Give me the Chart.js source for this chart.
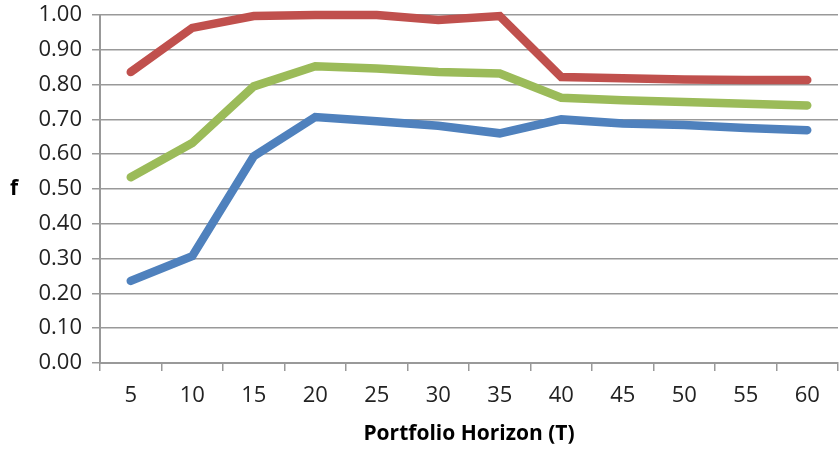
<!DOCTYPE html>
<html lang="en">
<head>
    <meta charset="UTF-8">
    <title>Portfolio Horizon</title>
    <script src="https://cdn.jsdelivr.net/npm/chart.js"></script>
    <style>
        body { margin: 0; background: #fff; }
        #wrap { width: 839px; height: 451px; }
    </style>
</head>
<body>
    <div id="wrap"><canvas id="chartCanvas" width="839" height="451"></canvas></div>
    <script>
        // horizons (T)
        const horizons = ['5', '10', '15', '20', '25', '30', '35', '40', '45', '50', '55', '60'];
        // f values
        const redSeries = [0.836, 0.963, 0.997, 1.0, 1.0, 0.986, 0.997, 0.822, 0.818, 0.815, 0.813, 0.813];
        const greenSeries = [0.534, 0.632, 0.795, 0.853, 0.846, 0.836, 0.832, 0.762, 0.755, 0.750, 0.745, 0.740];
        const blueSeries = [0.236, 0.307, 0.594, 0.707, 0.695, 0.682, 0.660, 0.700, 0.688, 0.684, 0.675, 0.669];

        const font = "'Open Sans', 'Liberation Sans', sans-serif";
        const gridColor = '#999999';

        // draws the upright "f" axis label on the left
        const sideLabel = {
            id: 'sideLabel',
            afterDraw(chart) {
                const ctx = chart.ctx;
                const area = chart.chartArea;
                ctx.save();
                ctx.font = 'bold 21px ' + font;
                ctx.fillStyle = '#000';
                ctx.textAlign = 'left';
                ctx.textBaseline = 'middle';
                ctx.fillText('f', 10, (area.top + area.bottom) / 2);
                ctx.restore();
            }
        };

        function series(data, color) {
            return {
                data: data,
                borderColor: color,
                backgroundColor: color,
                borderWidth: 8.5,
                borderCapStyle: 'round',
                borderJoinStyle: 'miter',
                pointRadius: 0,
                tension: 0,
                clip: false
            };
        }

        new Chart(document.getElementById('chartCanvas'), {
            type: 'line',
            data: {
                labels: horizons,
                datasets: [
                    series(redSeries, '#C0504D'),
                    series(greenSeries, '#9BBB59'),
                    series(blueSeries, '#4F81BD')
                ]
            },
            options: {
                responsive: false,
                animation: false,
                layout: { padding: { top: 0, right: 1, left: 0, bottom: 0 } },
                plugins: {
                    legend: { display: false },
                    tooltip: { enabled: false }
                },
                scales: {
                    x: {
                        offset: true,
                        grid: {
                            offset: true,
                            drawOnChartArea: false,
                            color: gridColor,
                            lineWidth: 1.5,
                            tickLength: 8
                        },
                        border: { color: gridColor, width: 2 },
                        ticks: { color: '#222', padding: 12, maxRotation: 0, font: { family: font, size: 22 } },
                        title: {
                            display: true,
                            text: 'Portfolio Horizon (T)',
                            color: '#000',
                            font: { family: font, size: 21, weight: 'bold' },
                            padding: { top: 8, bottom: 4 }
                        },
                        afterFit(scale) { scale.height = 88; }
                    },
                    y: {
                        min: 0,
                        max: 1,
                        ticks: {
                            stepSize: 0.1,
                            color: '#222',
                            padding: 10,
                            font: { family: font, size: 22 },
                            callback: v => v.toFixed(2)
                        },
                        grid: { color: gridColor, lineWidth: 1.5, tickLength: 8 },
                        border: { color: gridColor, width: 2 },
                        afterFit(scale) {
                            scale.width = 100;
                            scale.paddingTop = 15;
                        }
                    }
                }
            },
            plugins: [sideLabel]
        });
    </script>
</body>
</html>
